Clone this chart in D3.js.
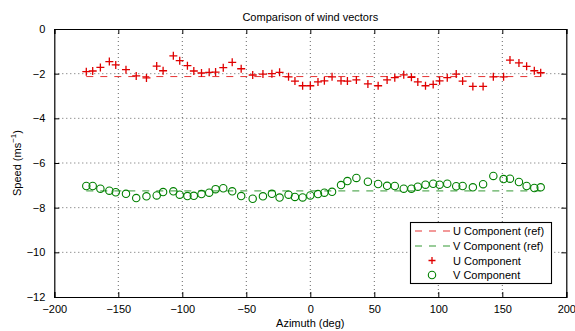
<!DOCTYPE html>
<html>
<head>
<meta charset="utf-8">
<script src="https://cdn.jsdelivr.net/npm/d3@7"></script>
<style>
  body { margin: 0; background: #fff; }
  svg { font-family: "Liberation Sans", Arial, sans-serif; }
</style>
</head>
<body>
<svg id="chart" width="575" height="331"></svg>
<script>
// Azimuth of each sample (deg)
var azimuth = [-175, -170, -164, -157, -152, -144, -136, -128, -120, -115, -107, -102, -96, -91, -85, -79, -74, -68,
    -61, -54, -45, -37, -30, -24, -17, -12, -6, 0, 6, 11, 17, 24, 29, 36, 45, 53,
    60, 66, 73, 79, 84, 90, 96, 101, 107, 114, 119, 127, 135, 143, 151, 156, 163, 169, 175, 180];

// Measured U component
var uComp = [-1.91, -1.88, -1.72, -1.46, -1.61, -1.82, -2.10, -2.19, -1.66, -1.87, -1.20, -1.42, -1.64, -1.88, -1.97, -1.94, -1.93, -1.73,
    -1.49, -1.78, -2.06, -2.02, -2.00, -1.94, -2.14, -2.33, -2.54, -2.54, -2.37, -2.32, -2.14, -2.32, -2.33, -2.28, -2.46, -2.54,
    -2.28, -2.18, -2.05, -2.16, -2.37, -2.54, -2.48, -2.32, -2.18, -2.02, -2.33, -2.57, -2.57, -2.14, -2.14, -1.39, -1.52, -1.67, -1.87, -1.96];

// Measured V component
var vComp = [-7.03, -7.03, -7.15, -7.24, -7.31, -7.38, -7.57, -7.49, -7.45, -7.30, -7.27, -7.42, -7.48, -7.47, -7.39, -7.33, -7.17, -7.13,
    -7.27, -7.48, -7.60, -7.49, -7.38, -7.55, -7.42, -7.52, -7.54, -7.45, -7.39, -7.33, -7.29, -6.99, -6.81, -6.67, -6.84, -6.94,
    -7.02, -7.03, -7.15, -7.15, -7.06, -6.97, -6.93, -6.97, -6.93, -7.04, -7.03, -7.09, -6.95, -6.58, -6.72, -6.70, -6.85, -7.03, -7.12, -7.09];

// Reference values
var uRef = -2.13;
var vRef = -7.25;

var xTicks = [-200, -150, -100, -50, 0, 50, 100, 150, 200];
var yTicks = [0, -2, -4, -6, -8, -10, -12];

var legendLabels = ["U Component (ref)", "V Component (ref)", "U Component", "V Component"];

var uColor = "#e00000";
var vColor = "#008000";

var svg = d3.select("#chart");
var pLeft = 54.3, pRight = 566.3, pTop = 29, pBottom = 297;

var x = d3.scaleLinear().domain([-200, 200]).range([pLeft, pRight]);
var y = d3.scaleLinear().domain([-12, 0]).range([pBottom, pTop]);

function minus(v) {
    return String(v).replace("-", "\u2212");
}

// Grid lines
var grid = svg.append("g");
grid.selectAll(".gx").data(xTicks.slice(1, -1)).enter().append("line")
    .attr("x1", d => x(d)).attr("x2", d => x(d))
    .attr("y1", pTop).attr("y2", pBottom)
    .attr("stroke", "#666").attr("stroke-width", 1).attr("stroke-dasharray", "1,3");
grid.selectAll(".gy").data(yTicks.slice(1, -1)).enter().append("line")
    .attr("x1", pLeft).attr("x2", pRight)
    .attr("y1", d => y(d)).attr("y2", d => y(d))
    .attr("stroke", "#666").attr("stroke-width", 1).attr("stroke-dasharray", "1,3");

// Axes (ticks pointing inwards, box around plot)
var fmt = d => minus(d);
svg.append("g").attr("transform", "translate(0," + pBottom + ")")
    .call(d3.axisBottom(x).tickValues(xTicks).tickSize(-5).tickPadding(8).tickFormat(fmt));
svg.append("g").attr("transform", "translate(0," + pTop + ")")
    .call(d3.axisTop(x).tickValues(xTicks).tickSize(-5).tickFormat(""));
svg.append("g").attr("transform", "translate(" + pLeft + ",0)")
    .call(d3.axisLeft(y).tickValues(yTicks).tickSize(-5).tickPadding(9).tickFormat(fmt));
svg.append("g").attr("transform", "translate(" + pRight + ",0)")
    .call(d3.axisRight(y).tickValues(yTicks).tickSize(-5).tickFormat(""));

svg.selectAll(".domain").attr("stroke", "#000").attr("stroke-width", 1.2);
svg.selectAll(".tick line").attr("stroke", "#000");
svg.selectAll(".tick text").attr("font-size", 11).attr("fill", "#000")
    .attr("font-family", "Liberation Sans, Arial, sans-serif");

// Reference lines
var refLine = d3.line().x(d => x(d[0])).y(d => y(d[1]));
var xr = d3.extent(azimuth);
svg.append("path").datum([[xr[0], uRef], [xr[1], uRef]])
    .attr("d", refLine).attr("fill", "none")
    .attr("stroke", uColor).attr("stroke-opacity", 0.8).attr("stroke-width", 1).attr("stroke-dasharray", "7,7");
svg.append("path").datum([[xr[0], vRef], [xr[1], vRef]])
    .attr("d", refLine).attr("fill", "none")
    .attr("stroke", vColor).attr("stroke-opacity", 0.8).attr("stroke-width", 1).attr("stroke-dasharray", "7,7");

// Measured points
function plusPath(cx, cy, s) {
    return "M" + (cx - s) + "," + cy + "H" + (cx + s) + "M" + cx + "," + (cy - s) + "V" + (cy + s);
}
svg.append("g").selectAll("path").data(azimuth).enter().append("path")
    .attr("d", (d, i) => plusPath(x(d), y(uComp[i]), 4))
    .attr("stroke", uColor).attr("stroke-width", 1.3).attr("fill", "none");
svg.append("g").selectAll("circle").data(azimuth).enter().append("circle")
    .attr("cx", d => x(d))
    .attr("cy", (d, i) => y(vComp[i]))
    .attr("r", 3.7)
    .attr("fill", "none").attr("stroke", vColor).attr("stroke-width", 1.1);

// Title and axis labels
svg.append("text").attr("x", (pLeft + pRight) / 2).attr("y", 21)
    .attr("text-anchor", "middle").attr("font-size", 11).attr("fill", "#000")
    .text("Comparison of wind vectors");
svg.append("text").attr("x", (pLeft + pRight) / 2).attr("y", 327)
    .attr("text-anchor", "middle").attr("font-size", 11).attr("fill", "#000")
    .text("Azimuth (deg)");
var yl = svg.append("text").attr("transform", "translate(21," + ((pTop + pBottom) / 2) + ") rotate(-90)")
    .attr("text-anchor", "middle").attr("font-size", 11).attr("fill", "#000");
yl.append("tspan").text("Speed (ms");
yl.append("tspan").attr("font-size", 8).attr("dy", -5).text("\u22121");
yl.append("tspan").attr("dy", 5).text(")");

// Legend
var lg = svg.append("g");
lg.append("rect").attr("x", 410.5).attr("y", 222.5).attr("width", 141).attr("height", 61)
    .attr("fill", "#fff").attr("stroke", "#000").attr("stroke-width", 1.1);
var rowY = [231, 246, 260.5, 275];
var rows = lg.selectAll("g").data(legendLabels).enter().append("g")
    .attr("transform", (d, i) => "translate(0," + rowY[i] + ")");
rows.append("text").attr("x", 453).attr("y", 4).attr("font-size", 11).attr("fill", "#000").text(d => d);
rows.filter((d, i) => i < 2).append("line")
    .attr("x1", 415).attr("x2", 450).attr("y1", 0).attr("y2", 0)
    .attr("stroke", (d, i) => i == 0 ? uColor : vColor).attr("stroke-opacity", 0.8)
    .attr("stroke-dasharray", "7,7");
rows.filter((d, i) => i == 2).append("path")
    .attr("d", plusPath(432, 0, 3.5)).attr("stroke", uColor).attr("stroke-width", 1.3);
rows.filter((d, i) => i == 3).append("circle")
    .attr("cx", 432).attr("cy", 0).attr("r", 3.7)
    .attr("fill", "none").attr("stroke", vColor).attr("stroke-width", 1.1);
</script>
</body>
</html>
